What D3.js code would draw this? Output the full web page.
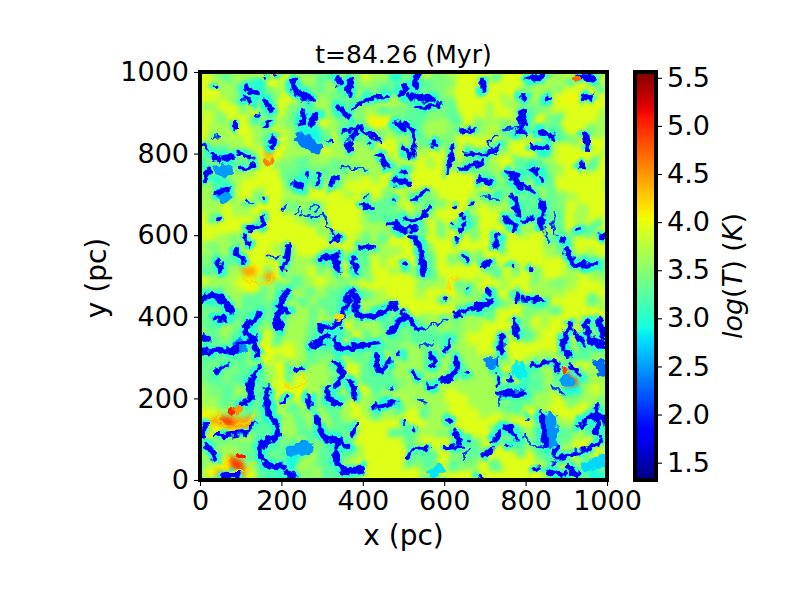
<!DOCTYPE html>
<html><head><meta charset="utf-8">
<script src="https://cdn.jsdelivr.net/npm/d3@7"></script>
<style>html,body{margin:0;background:#fff}svg{display:block}text{font-family:"DejaVu Sans",sans-serif;fill:#000}</style>
</head><body><svg id="c" width="800" height="600"></svg>
<script>
const titleText = "t=84.26 (Myr)";
const xLabel = "x (pc)", yLabel = "y (pc)";
const posTicks = [0,200,400,600,800,1000];
const cbTicks = [1.5,2.0,2.5,3.0,3.5,4.0,4.5,5.0,5.5];
const cbRange = [1.32,5.56];
// warm background field: log T per coarse cell, top row first
const levels = {a:3.25,b:3.45,c:2.9,d:3.05,e:3.3,f:3.65,g:3.95,h:4.06,i:4.45,j:4.9,k:5.3};
const rows = [
"gcgefgbbggfcffffgfee"+"gbfgfggggggffbfgiabf",
"ggbeffgggaffeafbgffc"+"bfgbfgggagggfffegffg",
"gggfaacgfaabefebfbab"+"faabbggggggbffbgggag",
"fggfbgabggfffbafcfgf"+"eabbfggggfffffghgggg",
"gbfggbgagbabfebaffeb"+"eefbeggfggfabfgggggg",
"fgfbggagfbabgfefbhhb"+"aabbagbffbfahbegggff",
"fgffggfbgfccefbaabfa"+"eaffbgffgafafbaggbfe",
"bgfffgfagfccegaebggf"+"fafbbggggbafggabggge",
"fbaafbgihfffgffffbfg"+"afggbgaabbgggfggggfe",
"ecbcebfgfbeffebfffbf"+"ggfgbfbbfgaaafgggagf",
"abffffgggeebebffgfge"+"agggggbafffaabfggggg",
"efcafggggbcefagggggb"+"ggggggggbfefbaggggge",
"ffacfgbggffgggfgbgbg"+"fabgggffcbfafebfgggb",
"gffgffgggbfbfgggbeef"+"gfabggfgfffaeabgfggg",
"ggagggbgggfbfgggfeee"+"fabggbaggfaaabagfggg",
"gggggbagggggbgggfffb"+"aagbgabggggffbaggagg",
"fggfbggggggggbgfefeg"+"gaggggbgbagggfaagggb",
"efbfbgggfagggggbabff"+"gabggggggbgggfafgfgg",
"fbfaahgggbfbaafbagfg"+"ggagbfbggggggggfaaag",
"fabffihbgbfgbfgabggf"+"bgaggggbagbgbggfgfag",
"ggffghfigfefgfbfgggg"+"gbffhefggfggbfbfgffb",
"feeffeefaafefeabefgg"+"gfgghfbfbgbgfffggggf",
"eaaefeebbfafeeeafffg"+"gggbfffbabfbaagggeff",
"ebfaeefabffefeabfaff"+"gggggafagggbffaggggg",
"feafbabbeffeghhbffaf"+"abffbffgggfbgfggffff",
"efefaafgaffeaaahefba"+"baaabfgggggafgggafaa",
"afebaaghggfbeahabfeb"+"ffbfbffggbgggggfbbaa",
"baabaafgfgfabffabefb"+"bfafbffffbgffffaafbf",
"febbbabfhefffaggeaaf"+"ffafgaffcgbdffafgfgb",
"ebabaeafhagffbggaaab"+"fbffaabffffdefajaffa",
"efbafbaggghgfbgbgaff"+"ffaffffffaaeaffcfgff",
"fffebabfhgghbaagfbfg"+"ffffggffffaeffgbffbf",
"fhgfbaabfabffafgfafa"+"gaffgggffaagfggggffg",
"fhijiibaffeffefggggg"+"ggffgggggfggfeffggbf",
"bfhhhhaaffeafeafggga"+"affbagggbfafacaefaaa",
"afebbbaaeefafebggggg"+"afggfabggaafacabggfa",
"effffeabeccfaaafgggg"+"gaagbbagggahbaaggggb",
"abfhjfaefcffeafggggg"+"abagabbgaggggfgafaaf",
"efhiihaaddfbfaafgggg"+"ggfggggggggggfagbcdd",
"faafgaacdaefeeaagggg"+"ggddgggbgggggafaabcd"
];
// cold gas structures, traced in parsec as x,y,x,y,...
const coldThick = [
[230,976,238,948,250,940],[258,944,275,931],[340,915,365,890],[254,895,250,874],[283,895,271,870],[390,862,373,841],[365,825,369,809],[180,837,176,817],[57,788,78,792],[111,960,139,948],[111,933,125,928],[160,931,176,907],[443,797,459,768],[480,731,500,731],[41,703,66,711],[20,756,12,735],[234,727,250,719],[480,629,500,609],[299,543,340,551],[332,535,340,515],[377,543,381,511],[86,564,107,535],[41,535,49,515],[340,985,342,970],[369,980,369,948],[480,874,500,862],
[532,993,528,968],[503,964,495,944],[516,944,548,935,573,935],[696,976,696,956],[807,984,840,989],[794,940,796,938],[852,935,853,933],[930,989,963,984],[946,938,958,938],[790,899,794,874],[778,850,790,862],[835,854,864,841],[819,817,852,813],[938,772,939,771],[503,809,520,796],[577,825,578,824],[688,735,712,731],[753,752,778,748],[770,735,790,719],[815,760,831,752],[839,735,840,733],[491,731,511,729],[499,756,500,755],[647,645,648,644],[770,694,782,654],[749,641,774,617],[794,633,815,641],[840,678,844,650],[840,637,840,621],[901,564,917,531,971,527],[540,576,548,511],[889,588,890,587],[729,596,725,572],[987,596,988,595],[700,531,708,530],[503,531,504,530],
[4,445,37,453,57,437],[66,429,78,413],[41,396,61,392],[193,425,217,413],[213,462,189,396,197,372],[143,405,111,364,139,347],[94,331,127,339,143,306],[8,315,94,319],[12,347,13,346],[143,274,123,233,127,200,102,188],[168,225,164,176,189,135,189,110,152,86,156,45,201,33],[266,204,270,180],[291,372,332,380,373,462],[275,327,316,355],[332,347,340,323,398,331,439,335],[357,437,381,453,389,404,430,404,480,429],[500,396,480,380,471,364],[463,290,439,266,435,306],[332,290,348,266,336,233],[316,225,312,200,340,188],[373,241,381,200],[430,180,480,192],[287,151,307,102,340,94,332,61,348,25,398,25],[340,102,361,82],[12,135,4,110],[16,86,37,57],[57,12,90,12],[213,20,234,8],
[684,421,716,441],[708,462,709,461],[774,388,778,351],[741,351,741,315],[950,388,962,339,991,331],[983,388,991,347],[569,306,573,282],[630,298,622,257,593,245],[737,212,794,212],[934,135,975,159,995,143],[975,176,975,118],[839,159,848,86],[749,131,770,118,778,102],[721,98,737,114],[626,118,634,94],[852,20,897,12],[909,29,926,12],[909,380,893,319,909,310]
];
const coldMedium = [
[381,915,422,935,467,942],[353,854,390,862,422,846,443,833],[94,805,127,788],[103,764,131,772],[119,617,152,625,156,645],[324,584,344,600],[398,572,430,568],[111,600,123,572],[320,719,336,743],[291,748,287,727],[262,752,262,745],[398,674,422,666],[463,629,496,613],[217,576,205,515],[156,692,157,691],[86,878,86,862],[139,892,140,891],[156,866,172,878],[37,962,38,961],[8,825,16,813],[25,801,49,784],[49,643,50,642],[406,694,407,693],[476,686,477,685],[418,825,419,824],[320,829,321,828],[160,989,161,988],[184,992,185,991],
[532,911,589,919],[946,850,950,813],[938,772,939,771],[495,878,524,854,520,800],[794,723,823,703],[524,686,557,711],[503,641,528,637,565,666],[491,617,532,617],[520,600,540,568],[622,821,606,755],[651,801,712,801,733,821],[639,760,692,780],[643,854,675,858],[921,613,934,617],[647,551,655,535],[766,527,767,526],[811,519,812,518],[622,625,623,624],[639,613,655,627],[630,588,631,587],[667,678,668,677],[626,670,627,669],[796,856,800,850],
[66,282,37,266],[217,208,197,188],[471,225,472,224],[381,135,373,110],[37,110,111,118,135,139],[234,274,254,274],[348,372,349,371],
[630,406,712,441],[659,472,660,471],[602,445,603,444],[491,413,516,396,532,372,548,372],[790,445,840,441],[778,457,778,441],[917,364,942,331],[520,266,536,249],[561,230,577,230],[655,261,656,260],[614,339,602,315],[491,310,492,309],[733,257,731,237],[762,257,762,241],[819,278,872,290,876,266],[909,282,938,253],[983,106,984,105],[803,151,804,150],[757,86,758,85],[696,61,716,74],[499,143,500,142],[528,125,529,124],[606,145,618,145],[511,57,528,78,557,78],[602,78,647,82],[659,98,660,97],[876,78,872,53,917,65,946,74,983,94],[868,41,869,40],[815,25,835,29],[688,8,689,7]
];
const coldThin = [
[201,662,213,674],[234,654,246,670],[271,662,279,674,293,666,283,658],[250,654,275,640,299,650,316,617,332,596],[111,682,131,678],[164,551,193,547],[348,768,389,764,410,760],[29,841,45,845],
[729,846,708,821,733,801],[745,862,786,866],[688,699,733,686],[872,658,864,633,876,600],[844,609,860,576],
[553,368,606,396],[540,327,573,335],[864,229,893,210],[737,212,733,180],[540,196,553,190],[794,110,819,86,844,82],[647,53,663,78],[733,301,725,275]
];
// cool patches with the level read for each (one list of points, one list of levels)
const coolPatches = [[250,835,285,815],[49,760,62,757],[53,703,60,690],[94,335,100,325],[225,73,266,82],[716,288,717,287],[979,282,991,270],[897,245,905,240],[860,150,865,90],[950,33,983,45],[782,274,790,262],[573,20,585,25]];
const coolLevels = [2.35,2.5,2.5,2.4,2.5,2.4,2.3,2.5,2.45,2.75,2.85,2.8];
// hot knots
const hotSpots = [[168,780],[897,270],[101,59],[78,169],[94,171],[926,983],[340,400]];
const hotLevels = [4.6,4.9,5.1,5.0,4.5,4.7,4.2];
// warm rims around hot gas
const warmRims = [[225,286,250,257,258,241,225,224,209,233],[45,170,55,140,115,140,135,170],[70,60,60,30,120,25,135,45],[615,460,615,495,640,490],[345,395,325,380],[100,490,170,485,180,500]];

const nCols = rows[0].length, nRows = rows.length;
const L=200,R=607,T=72,B=480,cbL=635,cbR=656;
const svg=d3.select("#c");
const defs=svg.append("defs");
defs.append("clipPath").attr("id","pc").append("rect").attr("x",L).attr("y",T).attr("width",R-L).attr("height",B-T);
const mkF=(id)=>defs.append("filter").attr("id",id).attr("filterUnits","userSpaceOnUse").attr("x",L-30).attr("y",T-30).attr("width",R-L+60).attr("height",B-T+60)
  .attr("color-interpolation-filters","sRGB");
// edge roughening so that traced strands read as gas, not as pen strokes
function rough(id,freq,scale,blurSd){
  const f=mkF(id);
  f.append("feTurbulence").attr("type","fractalNoise").attr("baseFrequency",freq).attr("numOctaves",2).attr("seed",4).attr("result","n");
  f.append("feDisplacementMap").attr("in","SourceGraphic").attr("in2","n").attr("scale",scale).attr("xChannelSelector","R").attr("yChannelSelector","G").attr("result","d");
  f.append("feGaussianBlur").attr("in","d").attr("stdDeviation",blurSd);
}
rough("bg",.03,22,2.6);
rough("halo",.1,14,1.6);
rough("core",.14,10,.55);

const rS=d3.scaleLinear().domain([0,.35,.66,.89,1]).range([0,0,1,1,.5]).clamp(true);
const gS=d3.scaleLinear().domain([0,.125,.375,.64,.91,1]).range([0,0,1,1,0,0]).clamp(true);
const bS=d3.scaleLinear().domain([0,.11,.34,.65,1]).range([.5,1,1,0,0]).clamp(true);
const norm=d3.scaleLinear().domain(cbRange).range([0,1]).clamp(true);
const color=v=>{const t=norm(v);return d3.rgb(rS(t)*255,gS(t)*255,bS(t)*255).formatHex();};

const x=d3.scaleLinear().domain([0,1000]).range([L,R]);
const y=d3.scaleLinear().domain([0,1000]).range([B,T]);
const bx=d3.scaleBand().domain(d3.range(nCols)).range([L-12,R+12]);
const by=d3.scaleBand().domain(d3.range(nRows)).range([T-12,B+12]);

const clip=svg.append("g").attr("clip-path","url(#pc)");
clip.append("rect").attr("x",L).attr("y",T).attr("width",R-L).attr("height",B-T).attr("fill",color(levels.g));
const cells=[];
rows.forEach((s,r)=>{for(let c=0;c<s.length;c++)cells.push({r,c,v:levels[s[c]]});});
clip.append("g").attr("filter","url(#bg)").selectAll("rect").data(cells).join("rect")
  .attr("x",d=>bx(d.c)).attr("y",d=>by(d.r))
  .attr("width",bx.bandwidth()+.5).attr("height",by.bandwidth()+.5)
  .attr("fill",d=>color(d.v));

const line=d3.line().curve(d3.curveCatmullRom).x(d=>x(d[0])).y(d=>y(d[1]));
const pts=a=>d3.range(0,a.length,2).map(i=>[a[i],a[i+1]]);
const layer=(f)=>clip.append("g").attr("filter",`url(#${f})`).attr("fill","none").attr("stroke-linecap","round").attr("stroke-linejoin","round");
const draw=(g,data,w,col)=>g.append("g").selectAll("path").data(data).join("path")
  .attr("d",d=>line(pts(d))).attr("stroke-width",w).attr("stroke",col);
const halo=layer("halo");
draw(halo,coldThick,12,color(3.0));
draw(halo,coldMedium,8,color(3.05));
draw(halo,coldThin,4.5,color(3.25));
const core=layer("core");
draw(core,warmRims,1.6,color(4.2));
core.append("g").selectAll("path").data(coolPatches).join("path")
  .attr("d",d=>line(pts(d))).attr("stroke-width",12).attr("stroke",(d,i)=>color(coolLevels[i]));
draw(core,coldThick,6,color(1.8));
draw(core,coldMedium,4,color(1.85));
draw(core,coldThin,2,color(2.0));
core.append("g").selectAll("circle").data(hotSpots).join("circle")
  .attr("cx",d=>x(d[0])).attr("cy",d=>y(d[1])).attr("r",4.2).attr("fill",(d,i)=>color(hotLevels[i]));

const fs=27;
function styleAxis(g){
  g.selectAll("text").attr("font-size",fs).attr("font-family","DejaVu Sans");
  g.selectAll("line").attr("stroke","#000").attr("stroke-width",1.1);
  g.select(".domain").remove();
}
svg.append("g").attr("transform",`translate(0,${B})`)
  .call(d3.axisBottom(x).tickValues(posTicks).tickFormat(d3.format("d")).tickSize(6).tickPadding(5)).call(styleAxis);
svg.append("g").attr("transform",`translate(${L},0)`)
  .call(d3.axisLeft(y).tickValues(posTicks).tickFormat(d3.format("d")).tickSize(6).tickPadding(5)).call(styleAxis);
svg.append("rect").attr("x",L).attr("y",T).attr("width",R-L).attr("height",B-T)
  .attr("fill","none").attr("stroke","#000").attr("stroke-width",4);

svg.append("text").attr("x",(L+R)/2).attr("y",63).attr("text-anchor","middle").attr("font-size",25).text(titleText);
svg.append("text").attr("x",(L+R)/2).attr("y",545).attr("text-anchor","middle").attr("font-size",28).text(xLabel);
svg.append("text").attr("transform",`translate(106,${(T+B)/2+2}) rotate(-90)`).attr("text-anchor","middle").attr("font-size",28).text(yLabel);

// colour bar
const cy=d3.scaleLinear().domain(cbRange).range([B,T]);
const cbSteps=d3.range(B-T).map(i=>cy.invert(B-i-.5));
svg.append("g").selectAll("rect").data(cbSteps).join("rect")
  .attr("x",cbL).attr("width",cbR-cbL).attr("y",d=>cy(d)-.5).attr("height",1.4).attr("fill",d=>color(d));
svg.append("rect").attr("x",cbL).attr("y",T).attr("width",cbR-cbL).attr("height",B-T)
  .attr("fill","none").attr("stroke","#000").attr("stroke-width",4);
svg.append("g").attr("transform",`translate(${cbR},0)`)
  .call(d3.axisRight(cy).tickValues(cbTicks).tickFormat(d3.format(".1f")).tickSize(6).tickPadding(5)).call(styleAxis);
const cbl=svg.append("text").attr("transform",`translate(742,${(T+B)/2}) rotate(-90)`).attr("text-anchor","middle").attr("font-size",27);
cbl.append("tspan").attr("font-style","italic").text("log");
cbl.append("tspan").text("(");
cbl.append("tspan").attr("font-style","italic").text("T");
cbl.append("tspan").text(") (");
cbl.append("tspan").attr("font-style","italic").text("K");
cbl.append("tspan").text(")");
</script></body></html>
